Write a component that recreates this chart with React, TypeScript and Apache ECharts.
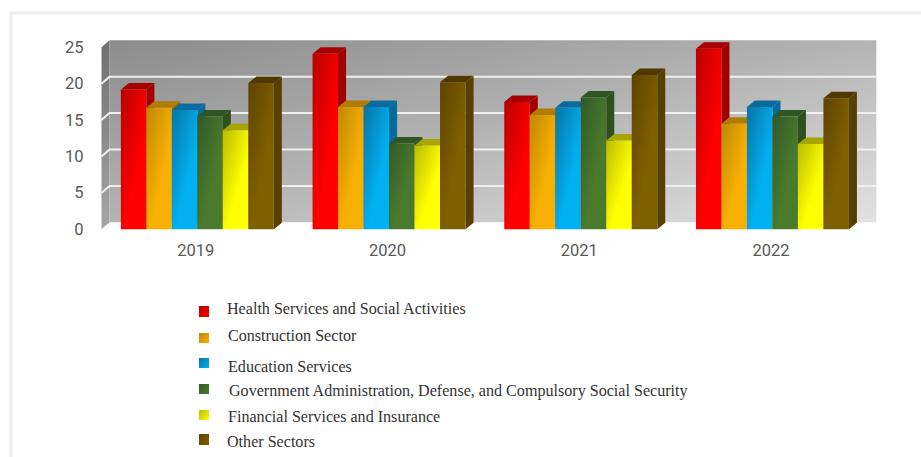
import React, { useEffect, useRef } from "react";
import * as echarts from "echarts";

const years = ["2019", "2020", "2021", "2022"];
const axisTicks = [0, 5, 10, 15, 20, 25];

const healthServices = [19.2, 24.1, 17.5, 24.8];
const construction = [16.7, 16.8, 15.7, 14.5];
const education = [16.4, 16.8, 16.7, 16.8];
const government = [15.5, 11.8, 18.1, 15.5];
const financial = [13.6, 11.5, 12.2, 11.7];
const otherSectors = [20.1, 20.2, 21.2, 18.0];

const seriesNames = [
  "Health Services and Social Activities",
  "Construction Sector",
  "Education Services",
  "Government Administration, Defense, and Compulsory Social Security",
  "Financial Services and Insurance",
  "Other Sectors",
];
const seriesValues = [healthServices, construction, education, government, financial, otherSectors];

// Shades per sector: front face dark edge, front face bright edge, top face, side face
const palette = [
  { dark: "#b80000", bright: "#ff0000", top: "#a80000", side: "#a00000" },
  { dark: "#c08806", bright: "#f8b000", top: "#b07c04", side: "#9a6c00" },
  { dark: "#0a74a4", bright: "#00b0f0", top: "#0a6c9c", side: "#066a9a" },
  { dark: "#305a28", bright: "#4a7a2c", top: "#2f5522", side: "#2e5020" },
  { dark: "#bcbc00", bright: "#ffff00", top: "#a8a400", side: "#9a9600" },
  { dark: "#5e4300", bright: "#7f6000", top: "#4f3900", side: "#554000" },
];

// Key rows below the plot: swatch box and label anchor
const keySwatchX = [199, 199, 199, 199, 199, 199];
const keySwatchY = [306, 333, 358, 384, 410, 434];
const keySwatchW = [10, 10, 10, 10, 10, 10];
const keySwatchH = [11, 10, 10, 10, 10, 11];
const keyLabelX = [227, 228, 228, 229, 228, 227];
const keyLabelY = [308.5, 335, 366, 390, 416, 441];

const DEPTH_X = 8;
const DEPTH_Y = 6.5;
const WALL_X = 8;
const WALL_Y = 7;
const BAR_BAND_RATIO = 0.133;

const gradient = (x: number, y: number, x2: number, y2: number, stops: [number, string][]) => ({
  type: "linear",
  x,
  y,
  x2,
  y2,
  colorStops: stops.map(([offset, color]) => ({ offset, color })),
});

// Side wall, back wall and the white grid lines running across both
const renderWalls = (params: any, api: any) => {
  const cs = params.coordSys;
  const left = cs.x;
  const right = cs.x + cs.width;
  const y0 = api.coord([0, 0])[1];
  const yTop = api.coord([0, axisTicks[axisTicks.length - 1]])[1];
  const children: any[] = [
    {
      type: "polygon",
      shape: {
        points: [
          [left, y0],
          [left + WALL_X, y0 - WALL_Y],
          [left + WALL_X, yTop - WALL_Y],
          [left, yTop],
        ],
      },
      style: { fill: gradient(0, 0, 0, 1, [[0, "#6f6f6f"], [1, "#a6a6a6"]]) },
    },
    {
      type: "rect",
      shape: { x: left + WALL_X, y: yTop - WALL_Y, width: cs.width, height: y0 - yTop },
      style: {
        fill: gradient(0, 0, 1, 1, [[0, "#8c8c8c"], [0.5, "#b4b4b4"], [1, "#e2e2e2"]]),
      },
    },
  ];
  axisTicks.slice(1, -1).forEach((tick) => {
    const y = api.coord([0, tick])[1];
    children.push({
      type: "polyline",
      shape: {
        points: [
          [left, y],
          [left + WALL_X, y - WALL_Y],
          [right + WALL_X, y - WALL_Y],
        ],
      },
      style: { fill: "none", stroke: "#f0f0f0", lineWidth: 2 },
    });
  });
  return { type: "group", children };
};

// One bar as three faces: front, top and right side
const renderBar = (seriesIdx: number) => (_params: any, api: any) => {
  const cat = api.value(0);
  const value = api.value(1);
  const base = api.coord([cat, 0]);
  const top = api.coord([cat, value]);
  const barW = api.size([1, 0])[0] * BAR_BAND_RATIO;
  const x = base[0] + (seriesIdx - 3) * barW;
  const shade = palette[seriesIdx];
  return {
    type: "group",
    children: [
      {
        type: "polygon",
        shape: {
          points: [
            [x + barW, base[1]],
            [x + barW + DEPTH_X, base[1] - DEPTH_Y],
            [x + barW + DEPTH_X, top[1] - DEPTH_Y],
            [x + barW, top[1]],
          ],
        },
        style: { fill: shade.side },
      },
      {
        type: "polygon",
        shape: {
          points: [
            [x, top[1]],
            [x + DEPTH_X, top[1] - DEPTH_Y],
            [x + barW + DEPTH_X, top[1] - DEPTH_Y],
            [x + barW, top[1]],
          ],
        },
        style: { fill: shade.top },
      },
      {
        type: "rect",
        shape: { x, y: top[1], width: barW, height: base[1] - top[1] },
        style: {
          fill: gradient(0, 0, 0.7, 0.8, [[0, shade.dark], [0.8, shade.bright], [1, shade.bright]]),
        },
      },
    ],
  };
};

export default function App() {
  const ref = useRef<HTMLDivElement>(null);

  useEffect(() => {
    const chart = echarts.init(ref.current!, undefined, { renderer: "svg" });
    const keyRows = seriesNames.flatMap((name, i) => [
      {
        type: "rect",
        silent: true,
        shape: { x: keySwatchX[i], y: keySwatchY[i], width: keySwatchW[i], height: keySwatchH[i] },
        style: { fill: gradient(0, 0, 1, 1, [[0, palette[i].dark], [1, palette[i].bright]]) },
      },
      {
        type: "text",
        silent: true,
        x: keyLabelX[i],
        y: keyLabelY[i],
        style: {
          text: name,
          fill: "#333333",
          font: "16.1px 'Liberation Serif', serif",
          textAlign: "left",
          textVerticalAlign: "middle",
        },
      },
    ]);
    chart.setOption({
      animation: false,
      backgroundColor: "#ffffff",
      grid: { left: 101.5, top: 47.3, width: 766.8, height: 182 },
      xAxis: {
        type: "category",
        data: years,
        axisLine: { show: false },
        axisTick: { show: false },
        axisLabel: {
          color: "#595959",
          fontFamily: "Roboto",
          fontSize: 16.5,
          margin: 13,
          padding: [0, 3, 0, 0],
        },
      },
      yAxis: {
        type: "value",
        min: 0,
        max: 25,
        interval: 5,
        axisLine: { show: false },
        axisTick: { show: false },
        splitLine: { show: false },
        axisLabel: { color: "#595959", fontFamily: "Roboto", fontSize: 16.5, margin: 18 },
      },
      graphic: [
        {
          type: "polyline",
          silent: true,
          shape: { points: [[11, 457], [11, 13], [921, 13]] },
          style: { fill: "none", stroke: "#ececec", lineWidth: 3 },
        },
        ...keyRows,
      ],
      series: [
        {
          type: "custom",
          name: "walls",
          coordinateSystem: "cartesian2d",
          silent: true,
          clip: false,
          z: 1,
          data: [[0, 0]],
          renderItem: renderWalls,
        },
        ...seriesNames.map((name, i) => ({
          type: "custom",
          name,
          coordinateSystem: "cartesian2d",
          clip: false,
          z: 2,
          encode: { x: 0, y: 1 },
          data: seriesValues[i].map((v, c) => [c, v]),
          renderItem: renderBar(i),
        })),
      ],
    });
    return () => chart.dispose();
  }, []);

  return <div ref={ref} style={{ position: "fixed", left: 0, top: 0, width: 921, height: 457 }} />;
}
